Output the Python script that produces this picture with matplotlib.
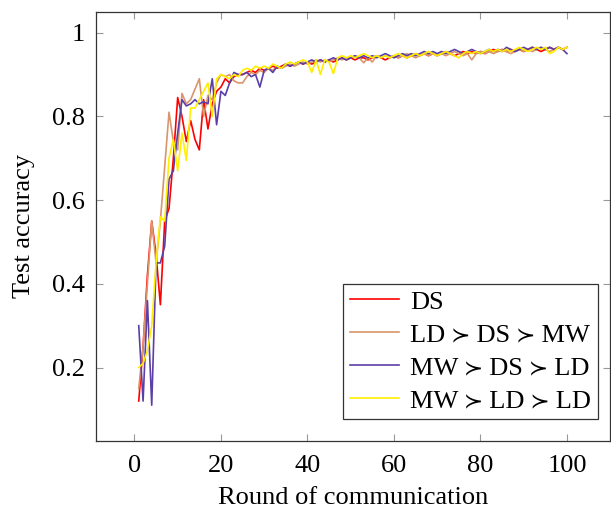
import numpy as np
import matplotlib.pyplot as plt

plt.rcParams['font.family'] = ['Liberation Serif', 'STIXGeneral', 'DejaVu Serif']

rounds = np.arange(1, 101)

ds = [0.12, 0.25, 0.42, 0.55, 0.47, 0.35, 0.55, 0.58, 0.70, 0.845,
      0.80, 0.74, 0.79, 0.745, 0.72, 0.84, 0.77, 0.83, 0.86, 0.87,
      0.89, 0.88, 0.895, 0.90, 0.90, 0.905, 0.91, 0.905, 0.915, 0.91,
      0.915, 0.92, 0.915, 0.92, 0.925, 0.92, 0.925, 0.93, 0.925, 0.93,
      0.925, 0.93, 0.935, 0.93, 0.935, 0.93, 0.935, 0.94, 0.935, 0.94,
      0.935, 0.94, 0.94, 0.935, 0.94, 0.945, 0.94, 0.935, 0.94, 0.945,
      0.94, 0.945, 0.94, 0.945, 0.95, 0.945, 0.95, 0.945, 0.95, 0.945,
      0.95, 0.955, 0.95, 0.945, 0.95, 0.955, 0.95, 0.955, 0.95, 0.955,
      0.95, 0.955, 0.96, 0.955, 0.96, 0.955, 0.96, 0.955, 0.96, 0.955,
      0.96, 0.965, 0.96, 0.955, 0.96, 0.965, 0.96, 0.965, 0.96, 0.965]

ld_ds_mw = [0.15, 0.25, 0.40, 0.55, 0.45, 0.55, 0.68, 0.81, 0.74, 0.72,
            0.855, 0.83, 0.84, 0.865, 0.89, 0.80, 0.85, 0.84, 0.88, 0.90,
            0.895, 0.90, 0.885, 0.88, 0.88, 0.895, 0.905, 0.90, 0.91, 0.905,
            0.915, 0.91, 0.92, 0.915, 0.92, 0.925, 0.92, 0.925, 0.93, 0.925,
            0.93, 0.935, 0.93, 0.935, 0.93, 0.935, 0.94, 0.935, 0.94, 0.94,
            0.945, 0.94, 0.928, 0.94, 0.93, 0.945, 0.94, 0.945, 0.94, 0.945,
            0.94, 0.945, 0.95, 0.945, 0.94, 0.945, 0.95, 0.945, 0.95, 0.945,
            0.95, 0.945, 0.95, 0.955, 0.95, 0.945, 0.95, 0.935, 0.95, 0.955,
            0.95, 0.955, 0.95, 0.955, 0.96, 0.955, 0.95, 0.955, 0.96, 0.955,
            0.96, 0.955, 0.96, 0.965, 0.96, 0.955, 0.96, 0.965, 0.96, 0.965]

mw_ds_ld = [0.30, 0.12, 0.36, 0.11, 0.45, 0.45, 0.49, 0.65, 0.67, 0.76,
            0.84, 0.825, 0.83, 0.84, 0.83, 0.835, 0.83, 0.89, 0.78, 0.86,
            0.85, 0.88, 0.905, 0.90, 0.90, 0.905, 0.895, 0.90, 0.87, 0.91,
            0.915, 0.905, 0.92, 0.915, 0.925, 0.92, 0.925, 0.93, 0.925, 0.93,
            0.935, 0.93, 0.935, 0.93, 0.935, 0.94, 0.935, 0.94, 0.935, 0.94,
            0.945, 0.94, 0.945, 0.94, 0.945, 0.94, 0.945, 0.95, 0.945, 0.94,
            0.945, 0.95, 0.945, 0.95, 0.945, 0.95, 0.955, 0.95, 0.955, 0.95,
            0.955, 0.95, 0.955, 0.96, 0.955, 0.95, 0.955, 0.96, 0.955, 0.95,
            0.955, 0.96, 0.955, 0.96, 0.955, 0.965, 0.96, 0.955, 0.96, 0.965,
            0.96, 0.965, 0.96, 0.965, 0.96, 0.965, 0.96, 0.965, 0.96, 0.95]

mw_ld_ld = [0.20, 0.21, 0.24, 0.30, 0.45, 0.56, 0.55, 0.70, 0.745, 0.67,
            0.76, 0.695, 0.82, 0.82, 0.84, 0.86, 0.88, 0.80, 0.89, 0.90,
            0.895, 0.89, 0.90, 0.895, 0.91, 0.915, 0.91, 0.92, 0.915, 0.92,
            0.915, 0.925, 0.92, 0.915, 0.925, 0.93, 0.925, 0.93, 0.935, 0.93,
            0.905, 0.935, 0.90, 0.935, 0.93, 0.902, 0.94, 0.945, 0.94, 0.945,
            0.94, 0.945, 0.95, 0.945, 0.94, 0.945, 0.94, 0.945, 0.94, 0.945,
            0.95, 0.945, 0.94, 0.945, 0.95, 0.945, 0.95, 0.955, 0.95, 0.945,
            0.95, 0.955, 0.95, 0.945, 0.94, 0.95, 0.955, 0.95, 0.955, 0.95,
            0.955, 0.96, 0.955, 0.96, 0.955, 0.96, 0.955, 0.96, 0.965, 0.96,
            0.955, 0.96, 0.965, 0.96, 0.965, 0.95, 0.955, 0.965, 0.96, 0.965]

labels = ['DS', 'LD ≻ DS ≻ MW', 'MW ≻ DS ≻ LD', 'MW ≻ LD ≻ LD']
colors = ['#ff0000', '#d9956b', '#5b3fa6', '#ffee00']

fig = plt.figure(figsize=(6.11, 5.11), dpi=100)
ax = fig.add_axes([0.157, 0.137, 0.841, 0.840])

for y, lab, c in zip([ds, ld_ds_mw, mw_ds_ld, mw_ld_ld], labels, colors):
    ax.plot(rounds, y, color=c, lw=1.2, label=lab)

ax.set_xlim(-8.9, 109.9)
ax.set_ylim(0.0245, 1.05)
ax.set_xticks([0, 20, 40, 60, 80, 100])
ax.set_yticks([0.2, 0.4, 0.6, 0.8, 1.0])
ax.set_yticklabels(['0.2', '0.4', '0.6', '0.8', '1'])
ax.tick_params(direction='in', top=True, right=True, length=5,
               color='#999999', labelsize=19)
ax.tick_params(axis='x', pad=10)
ax.tick_params(axis='y', pad=8)
for s in ax.spines.values():
    s.set_color('#333333')
    s.set_linewidth(0.9)

ax.set_xlabel('Round of communication', fontsize=19, labelpad=7)
ax.set_ylabel('Test accuracy', fontsize=19, labelpad=12)

leg = ax.legend(loc='lower right', bbox_to_anchor=(0.977, 0.051),
                fontsize=19, handlelength=1.85,
                fancybox=False, framealpha=1, edgecolor='#333333',
                borderaxespad=0, labelspacing=0.36, handletextpad=0.45,
                borderpad=0.25)
leg.get_frame().set_linewidth(0.9)

fig.savefig('out.png', dpi=100)
